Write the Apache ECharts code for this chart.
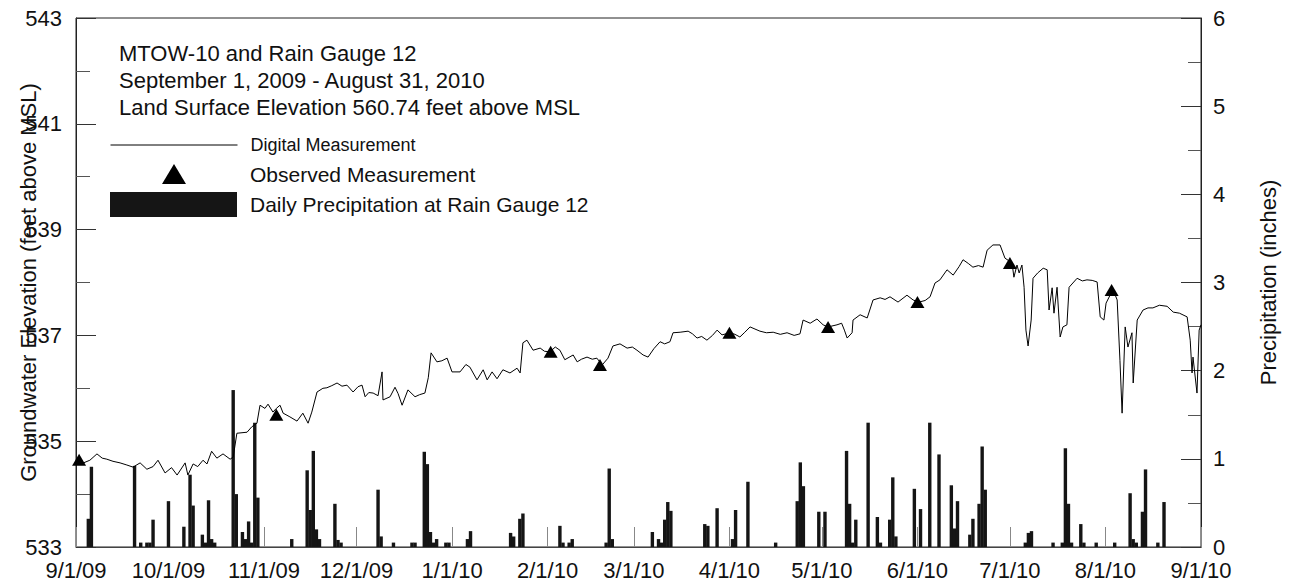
<!DOCTYPE html>
<html>
<head>
<meta charset="utf-8">
<title>MTOW-10 and Rain Gauge 12</title>
<script src="https://cdn.jsdelivr.net/npm/echarts@6/dist/echarts.min.js"></script>
<style>
  html, body { margin: 0; padding: 0; background: #fff; }
  #chart { width: 1291px; height: 585px; }
</style>
</head>
<body>
<div id="chart"></div>
<script>
// x positions are days since 2009-09-01
const monthDays = [0, 30, 61, 91, 122, 153, 181, 212, 242, 273, 303, 334, 365];
const monthLabels = ['9/1/09', '10/1/09', '11/1/09', '12/1/09', '1/1/10', '2/1/10', '3/1/10',
  '4/1/10', '5/1/10', '6/1/10', '7/1/10', '8/1/10', '9/1/10'];

// Continuous logger record (feet above MSL)
const loggerDay = [
  0, 2, 4.5, 6.8, 8.5, 10, 12, 14.3, 16.5, 18.5, 20.8, 23, 25, 26.6, 28.9, 31, 32.8, 35.4, 36.3, 38,
  39.5, 41.2, 42.5, 44, 45.7, 47.7, 50, 51, 52.2, 55.5, 57, 58.7, 59.7, 61.3, 62.3, 63.9, 65, 66.2, 67.2, 69.4,
  71.7, 73.6, 75.3, 76.5, 78.2, 80.1, 81.4, 83, 84.7, 86.3, 87.9, 89.9, 91.5, 92.8, 93.8, 95, 96.4, 98, 99.3, 99.6,
  101.9, 103.5, 104.5, 105.8, 107.7, 110, 111.5, 113.2, 114.3, 115.2, 117.1, 118.7, 120.4, 122, 124.6, 126.5, 127.8, 130.1, 132.1, 133.4,
  135, 136.6, 138.5, 140.8, 143.1, 144.1, 145, 146.3, 148.3, 150.6, 152, 153.8, 155.5, 157, 158.6, 161.3, 162.6, 164, 165.8, 167.5,
  169, 170.7, 172.6, 174.2, 176.5, 178.8, 180.5, 182, 184, 185.6, 187.5, 189.5, 191, 192.7, 193.7, 196, 198.6, 200, 201.5, 203,
  204.7, 206.5, 208, 209.6, 212.2, 213.8, 215.4, 217, 218.7, 220.3, 221.9, 224, 226.2, 228.5, 230.7, 233, 234.9, 235.9, 238.2, 240.4,
  242.4, 244, 246.9, 248.4, 249.3, 250.2, 251.8, 252.1, 254.4, 256.7, 258.6, 260.9, 262.5, 264.1, 266.7, 269.6, 271.6, 273.5, 275.5, 277.1,
  278.7, 280.3, 282.6, 284.6, 286.5, 287.8, 289.5, 291, 292.8, 294.3, 295.6, 297.5, 299.8, 301.4, 303.7, 304.3, 305.3, 306, 306.9, 307.6,
  308.2, 308.9, 309.9, 310.5, 312, 313.8, 315.1, 315.7, 316.7, 317.3, 318.3, 319.3, 320.2, 321.5, 322.2, 324.8, 326.5, 328, 329.7, 331.3,
  332.3, 333.5, 334.2, 335.5, 336.5, 337.8, 338.7, 339.4, 340.4, 341.3, 342.6, 343, 344.3, 346.2, 347.8, 349.4, 351.5, 354, 356, 358,
  360.5, 361.5, 362.1, 362.4, 363.7, 364.4, 365
];
const loggerLevel = [
  534.64, 534.58, 534.64, 534.76, 534.68, 534.66, 534.62, 534.59, 534.55, 534.51, 534.59, 534.47, 534.52, 534.64, 534.40, 534.50, 534.36, 534.59, 534.36, 534.57,
  534.52, 534.64, 534.57, 534.81, 534.68, 534.76, 534.66, 534.70, 535.15, 535.17, 535.27, 535.34, 535.68, 535.62, 535.70, 535.55, 535.62, 535.68, 535.53, 535.46,
  535.38, 535.53, 535.34, 535.55, 535.93, 536.00, 536.01, 536.05, 536.10, 536.04, 536.06, 535.93, 536.03, 536.06, 535.84, 535.92, 535.91, 535.86, 536.31, 535.78,
  535.84, 536.02, 535.90, 535.68, 535.97, 535.84, 535.88, 535.91, 536.20, 536.67, 536.50, 536.52, 536.57, 536.31, 536.31, 536.45, 536.40, 536.16, 536.35, 536.16,
  536.31, 536.18, 536.35, 536.29, 536.38, 536.29, 536.86, 536.91, 536.72, 536.76, 536.70, 536.69, 536.78, 536.72, 536.54, 536.63, 536.50, 536.55, 536.59, 536.55,
  536.57, 536.44, 536.57, 536.80, 536.84, 536.76, 536.78, 536.72, 536.63, 536.59, 536.75, 536.88, 536.84, 536.88, 537.05, 537.06, 537.08, 537.03, 536.95, 536.98,
  536.91, 537.00, 537.10, 537.01, 537.05, 537.02, 536.97, 537.06, 537.16, 537.12, 537.08, 537.05, 537.06, 537.02, 537.05, 537.00, 537.03, 537.29, 537.23, 537.31,
  537.20, 537.16, 537.20, 537.23, 537.10, 536.95, 537.05, 537.29, 537.39, 537.33, 537.67, 537.71, 537.68, 537.73, 537.63, 537.76, 537.67, 537.63, 537.66, 537.73,
  537.99, 538.05, 538.24, 538.14, 538.30, 538.43, 538.36, 538.29, 538.32, 538.29, 538.61, 538.71, 538.71, 538.46, 538.37, 538.10, 538.33, 538.18, 538.33, 537.91,
  537.10, 536.80, 537.29, 538.08, 538.18, 538.27, 538.24, 537.48, 537.90, 537.42, 537.91, 536.97, 537.16, 537.20, 537.91, 538.08, 538.03, 538.05, 538.04, 538.01,
  537.35, 537.29, 537.61, 537.76, 537.86, 537.67, 536.53, 535.53, 537.16, 536.78, 537.05, 536.10, 537.29, 537.48, 537.52, 537.52, 537.57, 537.55, 537.44, 537.42,
  537.35, 536.91, 536.29, 536.59, 535.91, 537.10, 537.20
];

// Manual water-level readings (feet above MSL)
const observedDates = ['2009-09-02', '2009-11-05', '2010-02-02', '2010-02-18', '2010-04-01',
  '2010-05-03', '2010-06-01', '2010-07-01', '2010-08-03'];
const observedLevel = [534.65, 535.50, 536.69, 536.44, 537.05, 537.16, 537.63, 538.37, 537.86];

// Daily rainfall totals (inches)
const precipDates = [
  '2009-09-05', '2009-09-06', '2009-09-20', '2009-09-22', '2009-09-24', '2009-09-25', '2009-09-26', '2009-10-01', '2009-10-06', '2009-10-08',
  '2009-10-09', '2009-10-12', '2009-10-13', '2009-10-14', '2009-10-15', '2009-10-16', '2009-10-22', '2009-10-23', '2009-10-25', '2009-10-26',
  '2009-10-27', '2009-10-28', '2009-10-29', '2009-10-30', '2009-11-10', '2009-11-15', '2009-11-16', '2009-11-17', '2009-11-18', '2009-11-19',
  '2009-11-24', '2009-11-25', '2009-11-26', '2009-12-08', '2009-12-09', '2009-12-13', '2009-12-19', '2009-12-20', '2009-12-23', '2009-12-24',
  '2009-12-25', '2009-12-26', '2009-12-27', '2009-12-30', '2009-12-31', '2010-01-06', '2010-01-07', '2010-01-20', '2010-01-21', '2010-01-23',
  '2010-01-24', '2010-02-05', '2010-02-06', '2010-02-08', '2010-02-09', '2010-02-20', '2010-02-21', '2010-02-22', '2010-03-07', '2010-03-09',
  '2010-03-10', '2010-03-11', '2010-03-12', '2010-03-13', '2010-03-24', '2010-03-25', '2010-03-28', '2010-04-02', '2010-04-03', '2010-04-07',
  '2010-04-16', '2010-04-23', '2010-04-24', '2010-04-25', '2010-04-30', '2010-05-02', '2010-05-09', '2010-05-10', '2010-05-11', '2010-05-12',
  '2010-05-16', '2010-05-19', '2010-05-20', '2010-05-23', '2010-05-24', '2010-05-25', '2010-05-31', '2010-06-02', '2010-06-05', '2010-06-08',
  '2010-06-12', '2010-06-13', '2010-06-14', '2010-06-18', '2010-06-19', '2010-06-21', '2010-06-22', '2010-06-23', '2010-07-06', '2010-07-07',
  '2010-07-08', '2010-07-15', '2010-07-18', '2010-07-19', '2010-07-20', '2010-07-21', '2010-07-24', '2010-07-25', '2010-07-29', '2010-08-04',
  '2010-08-09', '2010-08-10', '2010-08-11', '2010-08-13', '2010-08-14', '2010-08-18', '2010-08-20'
];
const precipInches = [
  0.32, 0.91, 0.92, 0.05, 0.05, 0.05, 0.31, 0.52, 0.23, 0.82,
  0.47, 0.14, 0.05, 0.53, 0.09, 0.05, 1.78, 0.60, 0.17, 0.09,
  0.29, 0.05, 1.41, 0.56, 0.09, 0.87, 0.42, 1.09, 0.20, 0.09,
  0.49, 0.08, 0.05, 0.65, 0.12, 0.05, 0.05, 0.05, 1.08, 0.94,
  0.17, 0.05, 0.09, 0.05, 0.05, 0.09, 0.18, 0.16, 0.12, 0.32,
  0.38, 0.24, 0.05, 0.05, 0.09, 0.05, 0.89, 0.09, 0.17, 0.09,
  0.05, 0.31, 0.51, 0.41, 0.26, 0.24, 0.44, 0.09, 0.42, 0.74,
  0.05, 0.52, 0.96, 0.69, 0.40, 0.40, 1.09, 0.49, 0.05, 0.31,
  1.41, 0.34, 0.05, 0.31, 0.79, 0.12, 0.66, 0.43, 1.41, 1.05,
  0.70, 0.21, 0.52, 0.14, 0.32, 0.49, 1.14, 0.65, 0.05, 0.16,
  0.18, 0.05, 0.05, 1.12, 0.49, 0.05, 0.26, 0.05, 0.05, 0.05,
  0.61, 0.09, 0.05, 0.40, 0.88, 0.05, 0.51
];

const dayOf = s => (Date.parse(s) - Date.parse('2009-09-01')) / 864e5;

const FONT = '"Liberation Sans", Arial, sans-serif';
const INK = '#111';

const chart = echarts.init(document.getElementById('chart'), null, { renderer: 'svg' });

chart.setOption({
  animation: false,
  backgroundColor: '#fff',
  textStyle: { fontFamily: FONT, color: INK },
  title: {
    text: 'MTOW-10 and Rain Gauge 12\nSeptember 1, 2009 - August 31, 2010\nLand Surface Elevation 560.74 feet above MSL',
    left: 119,
    top: 40,
    padding: 0,
    textStyle: { fontSize: 22, lineHeight: 27, fontWeight: 'normal', color: INK, fontFamily: FONT }
  },
  legend: [
    {
      // plain line key: hide the marker drawn in the middle of the line
      data: ['Digital Measurement'],
      left: 110, top: 135, padding: 0,
      itemWidth: 127, itemHeight: 14,
      selectedMode: false,
      itemStyle: { opacity: 0 },
      lineStyle: { color: '#000', width: 1 },
      textStyle: { fontSize: 18, lineHeight: 20, color: INK, fontFamily: FONT, padding: [0, 0, 0, 8] }
    },
    {
      data: [{ name: 'Observed Measurement', icon: 'triangle' }],
      left: 162, top: 162, padding: 0,
      itemWidth: 24, itemHeight: 20,
      selectedMode: false,
      itemStyle: { color: '#000' },
      textStyle: { fontSize: 21, lineHeight: 24, color: INK, fontFamily: FONT, padding: [0, 0, 0, 59] }
    },
    {
      data: [{ name: 'Daily Precipitation at Rain Gauge 12', icon: 'rect' }],
      left: 110, top: 192, padding: 0,
      itemWidth: 127, itemHeight: 25,
      selectedMode: false,
      textStyle: { fontSize: 21, lineHeight: 25, color: INK, fontFamily: FONT, padding: [0, 0, 0, 8] }
    }
  ],
  grid: {
    left: 76, right: 90, top: 18, bottom: 38,
    show: true, borderColor: '#222', borderWidth: 1, backgroundColor: 'transparent'
  },
  xAxis: {
    type: 'value',
    min: 0, max: 365,
    axisLine: { show: true, lineStyle: { color: '#444', width: 1 } },
    axisTick: { show: true, inside: true, length: 20, customValues: monthDays, lineStyle: { color: '#888' } },
    axisLabel: {
      customValues: monthDays,
      formatter: v => monthLabels[monthDays.indexOf(v)] || '',
      fontSize: 22, color: INK, margin: 12, fontFamily: FONT
    },
    splitLine: { show: false }
  },
  yAxis: [
    {
      type: 'value',
      position: 'left',
      min: 533, max: 543, interval: 2,
      name: 'Groundwater Elevation (feet above MSL)',
      nameLocation: 'middle', nameRotate: 90, nameGap: 37,
      nameMoveOverlap: false,
      nameTextStyle: { fontSize: 22, color: INK, fontFamily: FONT },
      axisLine: { show: true, lineStyle: { color: '#222' } },
      axisTick: { show: true, inside: true, length: 20, lineStyle: { color: '#333' } },
      minorTick: { show: true, splitNumber: 2, length: 14, lineStyle: { color: '#555' } },
      axisLabel: { fontSize: 22, color: INK, margin: 14, fontFamily: FONT },
      splitLine: { show: false },
      minorSplitLine: { show: false }
    },
    {
      type: 'value',
      position: 'right',
      min: 0, max: 6, interval: 1,
      name: 'Precipitation (inches)',
      nameLocation: 'middle', nameRotate: 90, nameGap: 56,
      nameMoveOverlap: false,
      nameTextStyle: { fontSize: 22, color: INK, fontFamily: FONT },
      axisLine: { show: true, lineStyle: { color: '#222' } },
      axisTick: { show: true, inside: true, length: 20, lineStyle: { color: '#333' } },
      minorTick: { show: true, splitNumber: 2, length: 13, lineStyle: { color: '#555' } },
      axisLabel: { fontSize: 22, color: INK, margin: 12, fontFamily: FONT },
      splitLine: { show: false },
      minorSplitLine: { show: false }
    }
  ],
  series: [
    {
      name: 'Daily Precipitation at Rain Gauge 12',
      type: 'bar',
      yAxisIndex: 1,
      barWidth: 3.4,
      itemStyle: { color: '#151515' },
      data: precipDates.map((d, i) => [dayOf(d), precipInches[i]]),
      z: 2
    },
    {
      name: 'Digital Measurement',
      type: 'line',
      yAxisIndex: 0,
      symbol: 'none',
      lineStyle: { color: '#000', width: 1 },
      itemStyle: { color: '#000' },
      data: loggerDay.map((d, i) => [d, loggerLevel[i]]),
      z: 3
    },
    {
      name: 'Observed Measurement',
      type: 'scatter',
      yAxisIndex: 0,
      symbol: 'triangle',
      symbolSize: [14, 12],
      itemStyle: { color: '#000', opacity: 1 },
      data: observedDates.map((d, i) => [dayOf(d), observedLevel[i]]),
      z: 4
    }
  ]
});
</script>
</body>
</html>
